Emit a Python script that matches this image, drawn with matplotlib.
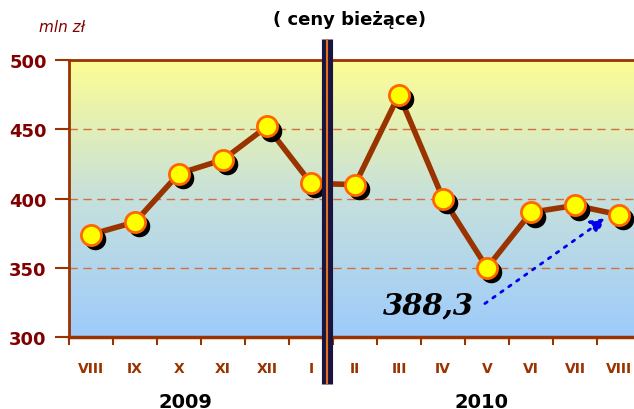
import numpy as np
import matplotlib.pyplot as plt
import matplotlib.transforms as mtransforms
from matplotlib.colors import LinearSegmentedColormap

months = ['VIII', 'IX', 'X', 'XI', 'XII', 'I', 'II', 'III', 'IV', 'V', 'VI', 'VII', 'VIII']
values = [374, 383, 418, 428, 452, 411, 410, 475, 400, 350, 390, 395, 388.3]
years = ['2009', '2010']
yticks = [300, 350, 400, 450, 500]

BROWN = '#993300'
DARKRED = '#800000'

fig = plt.figure(figsize=(6.34, 4.10), dpi=100)
ax = fig.add_axes([0.1088, 0.1756, 0.8912, 0.6756])

x = np.arange(len(months))
ax.set_xlim(-0.5, 12.34)
ax.set_ylim(300, 500)

# background gradient yellow -> light blue
cmap = LinearSegmentedColormap.from_list('bg', ['#9dcbfb', '#c6e0dc', '#fdfd94'])
grad = np.linspace(0, 1, 256).reshape(-1, 1)
ax.imshow(grad, cmap=cmap, origin='lower', aspect='auto',
          extent=[0, 1, 0, 1], transform=ax.transAxes, zorder=0)

for v in [350, 400, 450]:
    ax.axhline(v, color='#d2703c', lw=1, ls=(0, (6, 4)), zorder=1)

ax.plot(x, values, color=BROWN, lw=4, zorder=3)
shadow = mtransforms.offset_copy(ax.transData, fig=fig, x=3, y=-3, units='points')
ax.plot(x, values, 'o', ms=14.5, color='black', transform=shadow, zorder=3.5)
ax.plot(x, values, 'o', ms=14.5, mfc='#ffff00', mec='#ff6600', mew=2, zorder=4)

# separator between years
ax.plot([5.36, 5.36], [-0.17, 1.076], color='#1a1440', lw=8,
        transform=ax.get_xaxis_transform(), clip_on=False, zorder=5, solid_capstyle='butt')
ax.plot([5.36, 5.36], [-0.17, 1.076], color='#e07020', lw=1.5,
        transform=ax.get_xaxis_transform(), clip_on=False, zorder=6, solid_capstyle='butt')

# annotation
ax.annotate('', xy=(11.75, 387), xytext=(8.9, 323),
            arrowprops=dict(arrowstyle='-|>', color='#0000ee', lw=2,
                            ls=(0, (1, 2.5)), mutation_scale=22), zorder=6)
ax.text(7.66, 323, '388,3', fontsize=21, fontweight='bold', style='italic',
        family='DejaVu Serif', ha='center', va='center', color='black', zorder=6)

# axes styling
for side in ['top', 'bottom', 'left']:
    ax.spines[side].set_color(BROWN)
ax.spines['top'].set_linewidth(2)
ax.spines['bottom'].set_linewidth(2.5)
ax.spines['left'].set_linewidth(2)
ax.spines['right'].set_visible(False)

ax.set_yticks(yticks)
ax.set_yticklabels([str(t) for t in yticks], fontsize=13, fontweight='heavy', color=DARKRED)
ax.tick_params(axis='y', length=10, width=1.5, color=BROWN, pad=6)

ax.set_xticks(np.arange(-0.5, 12.5, 1.0))
ax.set_xticklabels([])
ax.set_xticks(x, minor=True)
ax.set_xticklabels(months, minor=True, fontsize=10, fontweight='heavy', color=BROWN)
ax.tick_params(axis='x', which='major', length=6, width=1.5, color=BROWN)
ax.tick_params(axis='x', which='minor', length=0, pad=17)

fig.text(0.292, 0.0195, years[0], fontsize=14, fontweight='bold', ha='center', va='center')
fig.text(0.760, 0.0195, years[1], fontsize=14, fontweight='bold', ha='center', va='center')
fig.text(0.098, 0.932, 'mln zł', fontsize=11, style='italic', color=DARKRED, ha='center', va='center')
fig.text(0.552, 0.952, '( ceny bieżące)', fontsize=13, fontweight='bold', ha='center', va='center')

fig.savefig('out.png', dpi=100)
